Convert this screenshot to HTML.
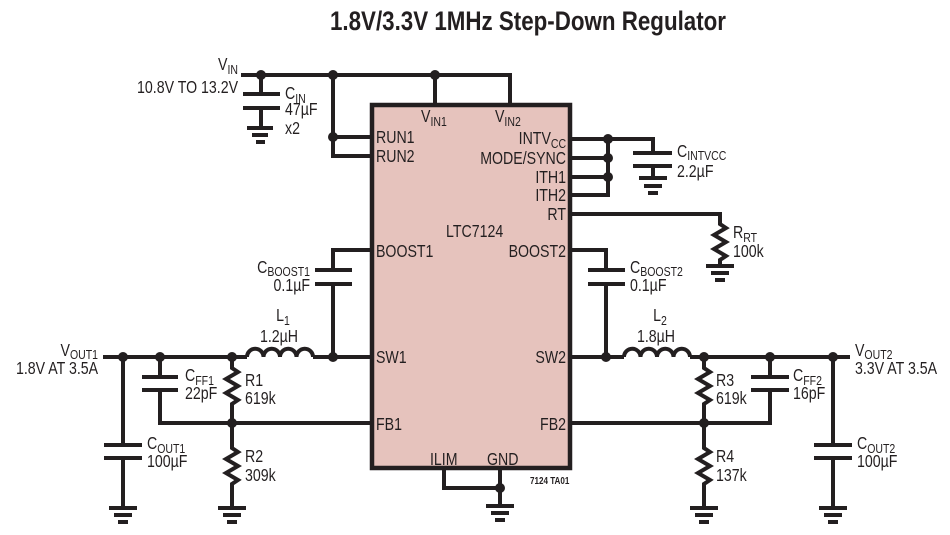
<!DOCTYPE html>
<html><head><meta charset="utf-8"><style>
html,body{margin:0;padding:0;background:#fff;}
svg{display:block;}
text{font-family:"Liberation Sans Narrow","Liberation Sans",sans-serif;fill:#231f20;font-size:17.5px;transform-box:fill-box;transform-origin:left center;transform:scaleX(.81);}
text[text-anchor=end]{transform-origin:right center;}
text[text-anchor=middle]{transform-origin:center center;}
text.t{transform:none;}
.s{font-size:13px;}
</style></head><body>
<svg width="950" height="535" viewBox="0 0 950 535" xmlns="http://www.w3.org/2000/svg">
<text class="t" x="330" y="30" style="font-size:27px;font-weight:bold" textLength="396" lengthAdjust="spacingAndGlyphs">1.8V/3.3V 1MHz Step-Down Regulator</text>

<rect x="372" y="105" width="198" height="363" fill="#e6c3bd" stroke="#231f20" stroke-width="4.5"/>

<g stroke="#231f20" stroke-width="4" fill="none">
<path d="M241 75H510V103M435 75V103M333 75V156H370M333 137H370"/>
<path d="M261 75V94M243 94H280M243 108H280M261 108V128M247 128H273M252 135H268M256 142H265"/>
<path d="M572 139H653V153M572 158H608M572 177H608M572 195H608V139M633 153H672M633 166H672M653 166V178M639 178H667M644 186H662M648 193H658"/>
<path d="M572 214H720V224L726 228L714 235L726 242L714 249L726 256L720 260V266M706 266H734M711 273H729M715 280H725"/>
<path d="M370 250H333V270M315 270H352M315 284H352M333 284V357"/>
<path d="M572 250H606V270M588 270H625M588 284H625M606 284V357"/>
<path d="M103 357H247M313 357H370"/>
<path d="M247 357a8.25 8.25 0 0 1 16.5 0a8.25 8.25 0 0 1 16.5 0a8.25 8.25 0 0 1 16.5 0a8.25 8.25 0 0 1 16.5 0"/>
<path d="M160 357V377M142 377H178M142 390H178M160 390V423H370"/>
<path d="M232 357V368L238 372L226 379L238 386L226 393L238 400L232 404V423"/>
<path d="M232 423V448L238 452L226 459L238 466L226 473L238 480L232 484V508M218 508H246M223 515H241M227 522H237"/>
<path d="M123 357V445M104 445H142M104 458H142M123 458V508M109 508H137M114 515H132M118 522H128"/>
<path d="M444 470V488H500M500 470V506M486 506H514M491 513H509M495 520H505"/>
<path d="M572 357H624M690 357H850"/>
<path d="M624 357a8.25 8.25 0 0 1 16.5 0a8.25 8.25 0 0 1 16.5 0a8.25 8.25 0 0 1 16.5 0a8.25 8.25 0 0 1 16.5 0"/>
<path d="M704 357V368L710 372L698 379L710 386L698 393L710 400L704 404V423"/>
<path d="M572 423H770V390M751 390H789M751 377H789M770 377V357"/>
<path d="M704 423V448L710 452L698 459L710 466L698 473L710 480L704 484V508M690 508H718M695 515H713M699 522H709"/>
<path d="M833 357V445M814 445H852M814 458H852M833 458V508M819 508H847M824 515H842M828 522H838"/>
</g>
<g fill="#231f20">
<circle cx="261" cy="75" r="5"/><circle cx="333" cy="75" r="5"/><circle cx="435" cy="75" r="5"/><circle cx="333" cy="137" r="5"/>
<circle cx="608" cy="139" r="5"/><circle cx="608" cy="158" r="5"/><circle cx="608" cy="177" r="5"/>
<circle cx="123" cy="357" r="5"/><circle cx="160" cy="357" r="5"/><circle cx="232" cy="357" r="5"/><circle cx="333" cy="357" r="5"/><circle cx="232" cy="423" r="5"/>
<circle cx="606" cy="357" r="5"/><circle cx="704" cy="357" r="5"/><circle cx="770" cy="357" r="5"/><circle cx="833" cy="357" r="5"/><circle cx="704" cy="423" r="5"/>
<circle cx="500" cy="488" r="5"/>
</g>

<text x="238" y="70" text-anchor="end">V<tspan class="s" dy="4">IN</tspan></text>
<text x="238" y="93" text-anchor="end">10.8V TO 13.2V</text>
<text x="285" y="99">C<tspan class="s" dy="4">IN</tspan></text>
<text x="285" y="115">47µF</text>
<text x="285" y="134">x2</text>

<text x="421" y="122">V<tspan class="s" dy="4">IN1</tspan></text>
<text x="495" y="122">V<tspan class="s" dy="4">IN2</tspan></text>
<text x="376" y="143">RUN1</text>
<text x="376" y="162">RUN2</text>
<text x="566" y="144" text-anchor="end">INTV<tspan class="s" dy="4">CC</tspan></text>
<text x="566" y="164" text-anchor="end">MODE/SYNC</text>
<text x="566" y="183" text-anchor="end">ITH1</text>
<text x="566" y="201" text-anchor="end">ITH2</text>
<text x="566" y="220" text-anchor="end">RT</text>
<text x="446" y="237">LTC7124</text>
<text x="376" y="257">BOOST1</text>
<text x="566" y="257" text-anchor="end">BOOST2</text>
<text x="376" y="363">SW1</text>
<text x="566" y="363" text-anchor="end">SW2</text>
<text x="376" y="430">FB1</text>
<text x="566" y="430" text-anchor="end">FB2</text>
<text x="430" y="465">ILIM</text>
<text x="487" y="465">GND</text>
<text x="530" y="484" style="font-size:10px;font-weight:bold">7124 TA01</text>

<text x="677" y="157">C<tspan class="s" dy="3">INTVCC</tspan></text>
<text x="677" y="177">2.2µF</text>
<text x="733" y="238">R<tspan class="s" dy="4">RT</tspan></text>
<text x="733" y="257">100k</text>

<text x="310" y="273" text-anchor="end">C<tspan class="s" dy="3">BOOST1</tspan></text>
<text x="310" y="291" text-anchor="end">0.1µF</text>
<text x="630" y="273">C<tspan class="s" dy="3">BOOST2</tspan></text>
<text x="630" y="291">0.1µF</text>

<text x="283" y="321" text-anchor="middle">L<tspan class="s" dy="4">1</tspan></text>
<text x="279" y="342" text-anchor="middle">1.2µH</text>
<text x="660" y="321" text-anchor="middle">L<tspan class="s" dy="4">2</tspan></text>
<text x="656" y="342" text-anchor="middle">1.8µH</text>

<text x="98" y="356" text-anchor="end">V<tspan class="s" dy="3">OUT1</tspan></text>
<text x="98" y="374" text-anchor="end">1.8V AT 3.5A</text>
<text x="185" y="381">C<tspan class="s" dy="4">FF1</tspan></text>
<text x="185" y="399">22pF</text>
<text x="245" y="386">R1</text>
<text x="245" y="404">619k</text>
<text x="147" y="449">C<tspan class="s" dy="4">OUT1</tspan></text>
<text x="147" y="467">100µF</text>
<text x="245" y="462">R2</text>
<text x="245" y="481">309k</text>

<text x="855" y="356">V<tspan class="s" dy="3">OUT2</tspan></text>
<text x="855" y="374">3.3V AT 3.5A</text>
<text x="793" y="381">C<tspan class="s" dy="4">FF2</tspan></text>
<text x="793" y="399">16pF</text>
<text x="716" y="386">R3</text>
<text x="716" y="404">619k</text>
<text x="857" y="449">C<tspan class="s" dy="4">OUT2</tspan></text>
<text x="857" y="467">100µF</text>
<text x="716" y="462">R4</text>
<text x="716" y="481">137k</text>
</svg>
</body></html>
